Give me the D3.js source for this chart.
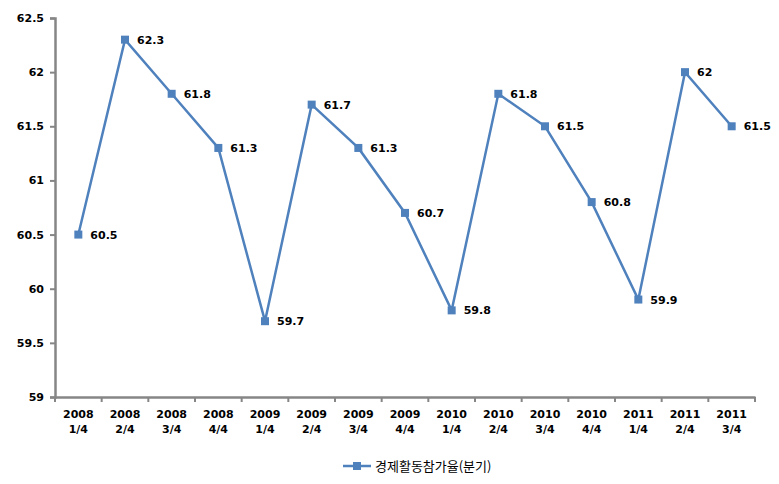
<!DOCTYPE html>
<html><head><meta charset="utf-8">
<script src="https://cdn.jsdelivr.net/npm/d3@7"></script>
<style>body{margin:0;background:#fff}</style>
</head><body><svg id="c" width="779" height="484"></svg>
<script>
const years = ["2008","2008","2008","2008","2009","2009","2009","2009","2010","2010","2010","2010","2011","2011","2011"];
const quarters = ["1/4","2/4","3/4","4/4","1/4","2/4","3/4","4/4","1/4","2/4","3/4","4/4","1/4","2/4","3/4"];
const values = [60.5,62.3,61.8,61.3,59.7,61.7,61.3,60.7,59.8,61.8,61.5,60.8,59.9,62,61.5];
const yTicks = [59,59.5,60,60.5,61,61.5,62,62.5];
const seriesName = "경제활동참가율(분기)";

const svg = d3.select("#c");
const L=55, R=755, T=18, B=397;
const idx = d3.range(values.length);
const x = d3.scaleBand().domain(idx).range([L,R]);
const y = d3.scaleLinear().domain([59,62.5]).range([B,T]);
const axisColor="#868686", lineColor="#4F81BD";
const font="Verdana, 'DejaVu Sans', sans-serif";

const ya = svg.append("g").attr("transform",`translate(${L},0)`)
  .call(d3.axisLeft(y).tickValues(yTicks).tickSize(5).tickPadding(6).tickFormat(d=>String(d)));
ya.select(".domain").attr("stroke",axisColor).attr("stroke-width",2.5);
ya.selectAll(".tick line").attr("stroke",axisColor).attr("stroke-width",2);
ya.selectAll(".tick text").attr("font-family",font).attr("font-weight","bold").attr("font-size",11).attr("fill","#000");

const xa = svg.append("g").attr("transform",`translate(0,${B})`)
  .call(d3.axisBottom(x).tickSize(0).tickFormat(""));
xa.select(".domain").attr("stroke",axisColor).attr("stroke-width",2.5);
const bounds = d3.range(values.length+1).map(i=> i<values.length ? x(i) : x(values.length-1)+x.bandwidth());
svg.append("g").selectAll("line").data(bounds).join("line")
  .attr("x1",d=>d).attr("x2",d=>d).attr("y1",B).attr("y2",B+5)
  .attr("stroke",axisColor).attr("stroke-width",2);
const lab = svg.append("g").selectAll("text").data(idx).join("text")
  .attr("x",i=>x(i)+x.bandwidth()/2).attr("text-anchor","middle")
  .attr("font-family",font).attr("font-weight","bold").attr("font-size",11).attr("fill","#000");
lab.append("tspan").attr("x",i=>x(i)+x.bandwidth()/2).attr("y",B+21).text(i=>years[i]);
lab.append("tspan").attr("x",i=>x(i)+x.bandwidth()/2).attr("y",B+36).text(i=>quarters[i]);

const cx = i=>x(i)+x.bandwidth()/2;
svg.append("path").datum(idx)
  .attr("d",d3.line().x(cx).y(i=>y(values[i])))
  .attr("fill","none").attr("stroke",lineColor).attr("stroke-width",2.5);
svg.append("g").selectAll("rect").data(idx).join("rect")
  .attr("x",i=>cx(i)-4).attr("y",i=>y(values[i])-4).attr("width",8).attr("height",8)
  .attr("fill",lineColor);
svg.append("g").selectAll("text").data(idx).join("text")
  .attr("x",i=>cx(i)+12).attr("y",i=>y(values[i])+4)
  .attr("font-family",font).attr("font-weight","bold").attr("font-size",11).attr("fill","#000")
  .text(i=>String(values[i]));

const lg = svg.append("g");
lg.append("line").attr("x1",343).attr("x2",371).attr("y1",466).attr("y2",466).attr("stroke",lineColor).attr("stroke-width",2.5);
lg.append("rect").attr("x",353).attr("y",462).attr("width",8).attr("height",8).attr("fill",lineColor);
lg.append("text").attr("x",375).attr("y",471).attr("font-family","'Noto Sans CJK KR', sans-serif")
  .attr("font-size",13).attr("fill","#000").text(seriesName);
</script></body></html>
